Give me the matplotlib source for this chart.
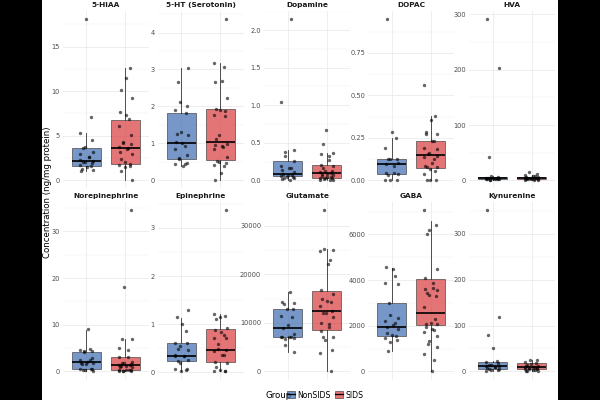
import numpy as np
import matplotlib
matplotlib.use("Agg")
import matplotlib.pyplot as plt
from matplotlib.patches import Patch, Rectangle
from matplotlib.lines import Line2D

# panel order, as in the facet grid
analytes = ["5-HIAA", "5-HT (Serotonin)", "Dopamine", "DOPAC", "HVA",
            "Norepinephrine", "Epinephrine", "Glutamate", "GABA", "Kynurenine"]
groups = ["NonSIDS", "SIDS"]

# tick step / decimals per panel
tick_step = [5, 1, 0.5, 0.25, 100, 10, 1, 10000, 2000, 100]
tick_dec = [0, 0, 1, 2, 0, 0, 0, 0, 0, 0]

nonsids_pts = [
    [18.1, 7.1, 5.25, 4.5, 3.75, 3.6, 3.2, 3.0, 2.65, 2.6, 2.25, 2.15, 2.1, 2.0, 1.9, 1.7, 1.6, 1.5, 1.3, 1.2, 1.0],
    [3.03, 2.67, 2.12, 2.0, 1.91, 1.82, 1.31, 1.25, 1.24, 1.03, 1.02, 0.94, 0.86, 0.68, 0.60, 0.59, 0.46, 0.43, 0.43, 0.40],
    [2.15, 1.04, 0.41, 0.38, 0.33, 0.26, 0.19, 0.17, 0.16, 0.14, 0.11, 0.08, 0.07, 0.065, 0.06, 0.05, 0.04, 0.03, 0.025, 0.02, 0.0],
    [0.95, 0.283, 0.25, 0.19, 0.127, 0.127, 0.125, 0.10, 0.096, 0.086, 0.043, 0.041, 0.035, 0.031, 0.0, 0.0, 0.0],
    [292, 204, 42, 8, 6, 5, 4.5, 4, 3.5, 3, 3, 2.5, 2, 2, 1.5, 1, 0.5],
    [9.0, 4.86, 4.57, 4.43, 4.29, 4.1, 2.93, 2.5, 2.36, 2.0, 1.9, 1.71, 1.6, 1.57, 0.6, 0.5, 0.43, 0.4, 0.3, 0.0],
    [1.29, 1.14, 1.0, 0.86, 0.61, 0.60, 0.55, 0.48, 0.46, 0.36, 0.35, 0.35, 0.34, 0.26, 0.23, 0.2, 0.07, 0.06, 0.05, 0.03],
    [16330, 14280, 14200, 13860, 12970, 12900, 11530, 11190, 9610, 8990, 7760, 7180, 7140, 7100, 7070, 6930, 6660, 5420, 3910],
    [4575, 4500, 4169, 3878, 3849, 2992, 2455, 2338, 2222, 2135, 2019, 1932, 1845, 1670, 1598, 1554, 1452, 1380, 1293, 900],
    [352, 118, 79, 52, 22, 20, 18, 15, 13, 12, 11, 10, 9, 8, 6, 5, 4, 3, 2],
]
sids_pts = [
    [12.6, 11.5, 10.1, 9.2, 7.7, 7.3, 6.9, 6.1, 5.1, 4.3, 4.2, 4.1, 3.7, 3.6, 3.5, 3.2, 3.0, 2.4, 2.0, 1.8, 1.7, 1.6, 1.5, 1.1, 0.0],
    [4.37, 3.18, 3.08, 2.70, 2.67, 2.24, 1.92, 1.91, 1.87, 1.78, 1.73, 1.24, 1.13, 0.97, 0.95, 0.93, 0.90, 0.85, 0.62, 0.52, 0.50, 0.46, 0.41, 0.40, 0.19, 0.0],
    [0.67, 0.48, 0.36, 0.345, 0.33, 0.27, 0.21, 0.19, 0.17, 0.13, 0.12, 0.11, 0.10, 0.09, 0.08, 0.07, 0.06, 0.05, 0.04, 0.035, 0.03, 0.025, 0.02, 0.01, 0.005, 0.0],
    [0.56, 0.377, 0.354, 0.283, 0.275, 0.27, 0.234, 0.234, 0.193, 0.184, 0.162, 0.154, 0.146, 0.137, 0.123, 0.10, 0.086, 0.078, 0.076, 0.066, 0.057, 0.035, 0.0, 0.0, 0.0],
    [15, 12, 10, 8, 7, 6, 5.5, 5, 4.5, 4, 4, 3.5, 3, 3, 2.5, 2, 1.5, 1, 0.5, 0],
    [34.6, 18.1, 7.0, 6.9, 5.1, 4.6, 3.1, 3.0, 2.0, 1.8, 1.7, 1.6, 1.4, 1.3, 1.2, 1.1, 1.0, 0.9, 0.4, 0.2, 0.2, 0.2, 0.15, 0.1, 0.05, 0.0],
    [3.37, 1.21, 1.17, 1.14, 1.1, 0.92, 0.88, 0.84, 0.77, 0.72, 0.72, 0.59, 0.48, 0.46, 0.45, 0.37, 0.36, 0.21, 0.19, 0.12, 0.04, 0.03, 0.02, 0.02],
    [33290, 25190, 24980, 24780, 22990, 22170, 16810, 15920, 14960, 14480, 14340, 13450, 12420, 12150, 12150, 11260, 10020, 9680, 9200, 8300, 7140, 7140, 6380, 4390, 3770, 0],
    [7073, 6434, 6202, 6028, 4473, 4111, 3893, 3646, 3617, 3588, 3457, 3370, 3297, 2818, 2295, 2135, 2077, 2062, 1932, 1845, 1816, 1743, 1569, 1336, 1206, 1060, 784, 479, 0],
    [25, 24, 20, 18, 16, 14, 12, 11, 10, 9, 9, 8, 7, 6, 6, 5, 4, 3, 2, 1, 0],
]

# box stats: (q1, median, q3, whisker low, whisker high)
nonsids_box = [
    (1.64, 2.2, 3.58, 1.0, 5.25),
    (0.59, 1.02, 1.82, 0.40, 3.03),
    (0.053, 0.08, 0.26, 0.0, 0.41),
    (0.035, 0.096, 0.127, 0.0, 0.25),
    (1.8, 3.6, 6.0, 0.5, 8.0),
    (0.57, 1.93, 4.14, 0.0, 8.9),
    (0.228, 0.35, 0.60, 0.02, 1.13),
    (7070, 8990, 12970, 3910, 16400),
    (1554, 1946, 2977, 915, 4546),
    (5.8, 10.9, 20.3, 2.0, 22.0),
]
sids_box = [
    (1.87, 3.66, 6.75, 0.0, 12.6),
    (0.54, 1.04, 1.92, 0.0, 3.18),
    (0.035, 0.093, 0.21, 0.0, 0.36),
    (0.07, 0.148, 0.234, 0.0, 0.377),
    (1.8, 3.6, 5.4, 0.0, 10.0),
    (0.21, 1.36, 3.0, 0.0, 7.0),
    (0.207, 0.463, 0.89, 0.02, 1.21),
    (8580, 12420, 16540, 0.0, 25330),
    (2019, 2542, 4038, 0.0, 6609),
    (5.0, 9.4, 18.0, 0.0, 25.0),
]

colors = {"NonSIDS": "#3C6BB0", "SIDS": "#D93A3D"}

W, H = 600, 400
fig = plt.figure(figsize=(6, 4), dpi=100, facecolor="black")
fig.add_artist(Rectangle((42 / W, 0), 516 / W, 1, transform=fig.transFigure,
                         facecolor="white", edgecolor="none", zorder=0))

col_left = [62.9, 157.9, 264.3, 368.3, 469.1]
pan_w = 85.8
row_top = [10.8, 201.9]
pan_h = 177.6

for i, name in enumerate(analytes):
    r, c = divmod(i, 5)
    ax = fig.add_axes([col_left[c] / W, 1 - (row_top[r] + pan_h) / H, pan_w / W, pan_h / H])
    ax.set_facecolor("none")
    for s in ax.spines.values():
        s.set_visible(False)

    for g, (pts, box) in enumerate([(nonsids_pts[i], nonsids_box[i]), (sids_pts[i], sids_box[i])]):
        q1, med, q3, lo, hi = box
        stats = [dict(q1=q1, med=med, q3=q3, whislo=lo, whishi=hi, fliers=[])]
        b = ax.bxp(stats, positions=[g + 1], widths=0.75, patch_artist=True,
                   showfliers=False, showcaps=False,
                   boxprops=dict(facecolor=colors[groups[g]], alpha=0.7, edgecolor="#333333", linewidth=0.6),
                   whiskerprops=dict(color="#333333", linewidth=0.6),
                   medianprops=dict(color="black", linewidth=1.2))
        for p in b["boxes"]:
            p.set_zorder(2)
            p.set_edgecolor((0.2, 0.2, 0.2, 1))
        pts = np.asarray(pts, dtype=float)
        k = np.arange(len(pts))
        jit = 0.17 * np.sin(2.39996 * k + 1.3 * i + 0.7 * g)
        ax.scatter(g + 1 + jit, pts, s=6, color="black", alpha=0.6, linewidths=0, zorder=4)

    allv = np.concatenate([nonsids_pts[i], sids_pts[i]])
    vmin, vmax = allv.min(), allv.max()
    rng = vmax - vmin
    ax.set_ylim(vmin - 0.05 * rng, vmax + 0.05 * rng)
    ax.set_xlim(0.4, 2.6)

    step = tick_step[i]
    ticks = np.arange(0, vmax + 0.05 * rng + 1e-9, step)
    ax.set_yticks(ticks)
    ax.set_yticklabels([f"{t:.{tick_dec[i]}f}" for t in ticks])
    ax.set_yticks(np.arange(step / 2, vmax + 0.05 * rng, step), minor=True)
    ax.set_xticks([1, 2])
    ax.set_xticklabels([])
    ax.tick_params(axis="both", which="both", length=0, pad=2.2, labelsize=4.8, labelcolor="#4D4D4D")
    ax.grid(True, which="major", color="#EBEBEB", linewidth=0.6, zorder=0)
    ax.grid(True, which="minor", axis="y", color="#F2F2F2", linewidth=0.35, zorder=0)
    ax.set_axisbelow(True)

    ax.annotate(name, xy=(0.5, 1), xycoords="axes fraction", xytext=(0, 4.2),
                textcoords="offset points", ha="center", va="center",
                fontsize=5.3, fontweight="bold", color="#1A1A1A")

fig.text(48 / W, 1 - 192 / H, "Concentration (ng/mg protein)", rotation=90,
         ha="center", va="center", fontsize=6.2, color="black")

# legend
fig.text(266 / W, 1 - 395 / H, "Group", ha="left", va="center", fontsize=6.2)
handles = []
for g in groups:
    handles.append((Patch(facecolor=colors[g], alpha=0.7, edgecolor="#333333", linewidth=0.6),
                    Line2D([], [], color="black", linewidth=0.9)))
fig.legend(handles, groups, loc="center left", bbox_to_anchor=(287 / W, 1 - 395 / H), ncol=2,
           frameon=False, fontsize=5.6, handlelength=1.0, handleheight=1.0,
           handletextpad=0.3, columnspacing=0.6, borderpad=0, borderaxespad=0)

fig.savefig("out.png", dpi=100, facecolor=fig.get_facecolor())
